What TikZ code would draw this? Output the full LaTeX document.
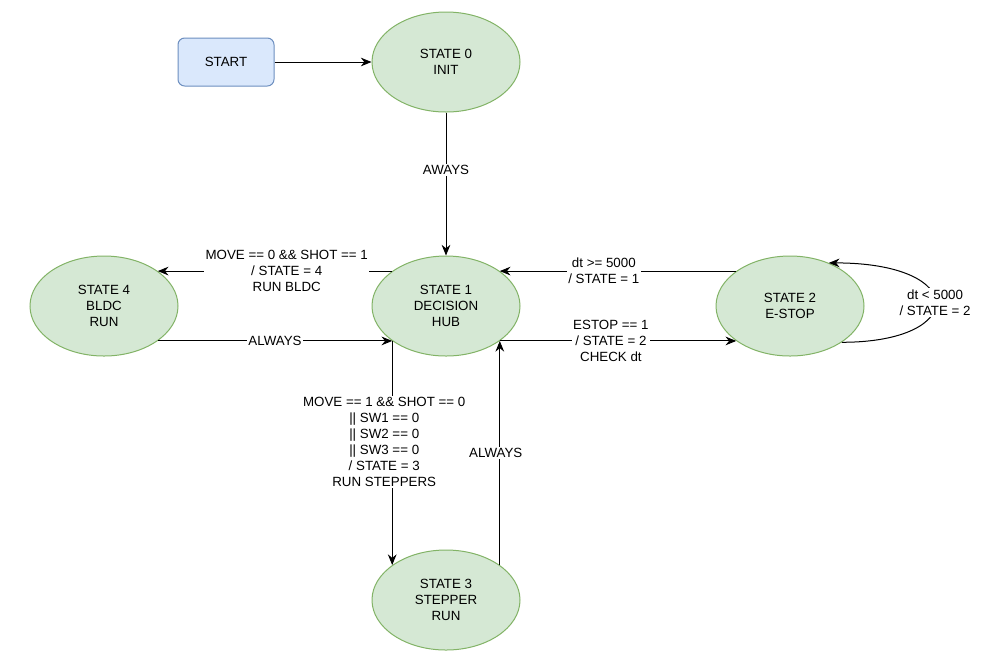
\documentclass[tikz,border=0pt]{standalone}
\usepackage{fontspec}
\setmainfont{Liberation Sans}
\usetikzlibrary{arrows.meta,shapes.geometric}
\definecolor{stfill}{HTML}{D5E8D4}
\definecolor{stline}{HTML}{82B366}
\definecolor{stfillb}{HTML}{DAE8FC}
\definecolor{stlineb}{HTML}{6C8EBF}

\begin{document}
\begin{tikzpicture}[x=0.75pt,y=-0.75pt,
  every node/.style={font=\fontsize{10}{12}\selectfont, align=center},
  state/.style={ellipse, draw=stline, fill=stfill, line width=0.75pt,
    minimum width=111pt, minimum height=75pt, inner sep=0pt},
  startbox/.style={rectangle, rounded corners=5pt, draw=stlineb, fill=stfillb,
    line width=0.75pt, minimum width=72pt, minimum height=36pt},
  trans/.style={-{Stealth[length=8pt,width=6.5pt]}, line width=0.75pt},
  lbl/.style={fill=white, inner sep=1pt}]
\useasboundingbox (0,0) rectangle (991,662);
\node [startbox] (start) at (226,62) {START}; % entry
\node [state] (s0) at (446,62) {STATE 0\\INIT};
\node [state] (s1) at (446,306) {STATE 1\\DECISION\\HUB};
\node [state] (s4) at (104,306) {STATE 4\\BLDC\\RUN};
\node [state] (s2) at (790,306) {STATE 2\\E-STOP};
\node [state] (s3) at (446,600) {STATE 3\\STEPPER\\RUN};
\draw [trans] (start) -- (s0); % start
\draw [trans] (s0) -- (s1) node [lbl, pos=0.4] {AWAYS};
\draw [trans] (s1.147) -- (s4.33) node [lbl, pos=0.45] {MOVE == 0 \&\& SHOT == 1\\/ STATE = 4\\RUN BLDC};
\draw [trans] (s4.-33) -- (s1.-147) node [lbl, midway] {ALWAYS};
\draw [trans] (s2.147) -- (s1.33) node [lbl, pos=0.56] {dt >= 5000\\/ STATE = 1};
\draw [trans] (s1.-33) -- (s2.-147) node [lbl, pos=0.47] {ESTOP == 1\\/ STATE = 2\\CHECK dt};
\draw [trans] (s2.-35) .. controls +(126,0) and +(140,0) .. (s2.48) node [lbl, midway] {dt < 5000\\/ STATE = 2}; % self loop
\draw [trans] (s1.-147) -- (s3.147) node [lbl, pos=0.45, xshift=-6pt] {MOVE == 1 \&\& SHOT == 0\\|| SW1 == 0\\|| SW2 == 0\\|| SW3 == 0\\/ STATE = 3\\RUN STEPPERS};
\draw [trans] (s3.33) -- (s1.-33) node [lbl, midway, xshift=-3pt] {ALWAYS};
\end{tikzpicture}
\end{document}
